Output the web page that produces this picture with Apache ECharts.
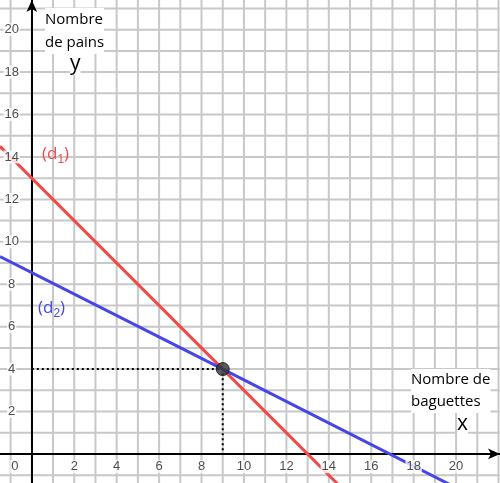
<!DOCTYPE html><html><head><meta charset="utf-8">
<script src="https://cdn.jsdelivr.net/npm/echarts@6/dist/echarts.min.js"></script>
<style>html,body{margin:0;padding:0;background:#fff}#c{width:500px;height:483px}</style></head>
<body><div id="c"></div><script>
const xTicks=[2,4,6,8,10,12,14,16,18,20];
const yTicks=[2,4,6,8,10,12,14,16,18,20];
const d1=[[-1.5,14.5],[9,4],[15,-2]];
const d2=[[-1.5,9.3],[9,4],[21,-2.1]];
const sol=[9,4];
const chart=echarts.init(document.getElementById('c'));
const lblFont={fontFamily:'Liberation Sans',fontSize:13,color:'#222'};
chart.setOption({
 animation:false,
 grid:{left:0,right:0,top:0,bottom:0},
 xAxis:{type:'value',min:-1.5,max:22.07,interval:1,axisLabel:{show:false},axisTick:{show:false},
  splitLine:{show:false},
  axisLine:{onZero:true,lineStyle:{color:'#000',width:2},symbol:['none','arrow'],symbolSize:[8,12]}},
 yAxis:{type:'value',min:-1.37,max:21.4,interval:1,axisLabel:{show:false},axisTick:{show:false},
  splitLine:{show:false},
  axisLine:{onZero:true,lineStyle:{color:'#000',width:2},symbol:['none','arrow'],symbolSize:[8,12]}},
 series:[
  {type:'custom',silent:true,z:0,renderItem:function(p,api){
    if(p.dataIndex>0)return;
    const ch=[];
    for(let x=-1;x<=22;x++){const a=api.coord([x,-2]),b=api.coord([x,22]);
      ch.push({type:'line',shape:{x1:a[0],y1:a[1],x2:b[0],y2:b[1]},style:{stroke:'#c8c8c8',lineWidth:2}});}
    for(let y=-1;y<=21;y++){const a=api.coord([-2,y]),b=api.coord([23,y]);
      ch.push({type:'line',shape:{x1:a[0],y1:a[1],x2:b[0],y2:b[1]},style:{stroke:'#c8c8c8',lineWidth:2}});}
    return {type:'group',children:ch};
  },data:[0]},
  {type:'line',data:[[0,sol[1]],sol,[sol[0],0]],symbol:'none',z:3,lineStyle:{color:'#000',width:2,type:[2,3]}},
  {type:'line',data:d1,symbol:'none',z:4,lineStyle:{color:'#f04a4a',width:3}},
  {type:'line',data:d2,symbol:'none',z:4,lineStyle:{color:'#4646e8',width:3}},
  {type:'scatter',data:[sol],symbolSize:13,z:6,itemStyle:{color:'#333',borderColor:'#111',borderWidth:1}},
  {type:'scatter',symbolSize:0,z:5,data:yTicks.map(v=>[-0.95,v]),
   label:{show:true,position:'inside',formatter:p=>p.value[1],backgroundColor:'#fff',padding:[0,1],...lblFont}},
  {type:'scatter',symbolSize:0,z:5,data:xTicks.map(v=>[v,-0.6]).concat([[-0.8,-0.6]]),
   label:{show:true,position:'inside',formatter:p=>p.value[0]<0?'0':p.value[0],backgroundColor:'#fff',padding:[0,1],...lblFont}}
 ],
 graphic:[
  {type:'text',left:45,top:8,z:10,style:{text:'Nombre\nde pains',fontFamily:'Open Sans',fontSize:15,lineHeight:23,fill:'#000',backgroundColor:'#fff'}},
  {type:'text',left:70,top:54,z:10,style:{text:'y',fontFamily:'Open Sans',fontSize:21,fill:'#000',backgroundColor:'#fff'}},
  {type:'text',left:411,top:369,z:10,style:{text:'Nombre de\nbaguettes',fontFamily:'Open Sans',fontSize:15,lineHeight:22,fill:'#000',backgroundColor:'#fff'}},
  {type:'text',left:457,top:414,z:10,style:{text:'x',fontFamily:'Open Sans',fontSize:21,fill:'#000',backgroundColor:'#fff'}},
  {type:'text',left:42,top:146,z:10,style:{text:'(d{s|1})',fontFamily:'Open Sans',fontSize:17,fill:'#f04a4a',rich:{s:{fontSize:12,fill:'#f04a4a',padding:[10,0,0,0]}}}},
  {type:'text',left:38,top:300,z:10,style:{text:'(d{s|2})',fontFamily:'Open Sans',fontSize:17,fill:'#4646e8',rich:{s:{fontSize:12,fill:'#4646e8',padding:[10,0,0,0]}}}}
 ]
});
</script></body></html>
